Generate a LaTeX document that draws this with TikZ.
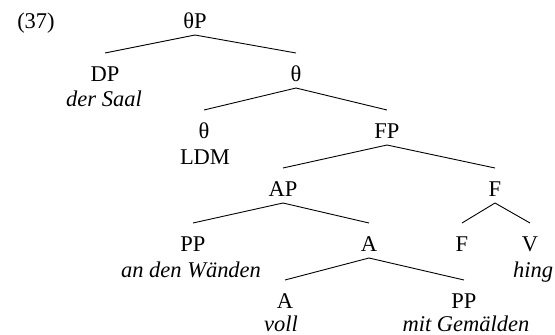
\documentclass[tikz,border=0pt]{standalone}
\usepackage{fontspec}
\setmainfont{Liberation Serif}
\begin{document}
\begin{tikzpicture}[x=1pt,y=-1pt,
  lab/.style={inner sep=0pt,outer sep=0pt,anchor=base,text height=28pt,text depth=7pt,font=\fontsize{22.5}{26}\selectfont},
  sub/.style={inner sep=0pt,outer sep=0pt,anchor=base,font=\fontsize{22.5}{26}\selectfont\itshape},
  subup/.style={inner sep=0pt,outer sep=0pt,anchor=base,font=\fontsize{22.5}{26}\selectfont},
  edge/.style={line width=0.9pt}]
\useasboundingbox (0,0) rectangle (555,335);
\node[lab] (ex) at (36,28) {(37)};
\node[lab] (tP) at (195,28) {θP};
\node[lab] (DP) at (105,81) {DP};
\node[sub] (DPw) at (104,106) {der Saal};
\node[lab] (T1) at (296,81) {θ};
\node[lab] (T2) at (204,138) {θ};
\node[subup] (T2w) at (205,164) {LDM};
\node[lab] (FP) at (387,138) {FP};
\node[lab] (AP) at (283,196) {AP};
\node[lab] (F1) at (495,196) {F};
\node[lab] (PP1) at (193,251) {PP};
\node[sub] (PP1w) at (191,277) {an den Wänden};
\node[lab] (A1) at (369,251) {A};
\node[lab] (F2) at (462,251) {F};
\node[lab] (V) at (530,251) {V};
\node[sub] (Vw) at (533,277) {hing};
\node[lab] (A2) at (285,308) {A};
\node[sub] (A2w) at (281,331) {voll};
\node[lab] (PP2) at (464,308) {PP};
\node[sub] (PP2w) at (466,331) {mit Gemälden};
\foreach \p/\c in {tP/DP,tP/T1,T1/T2,T1/FP,FP/AP,FP/F1,AP/PP1,AP/A1,F1/F2,F1/V,A1/A2,A1/PP2}
  \draw[edge] (\p.south) -- (\c.north);
\end{tikzpicture}
\end{document}
